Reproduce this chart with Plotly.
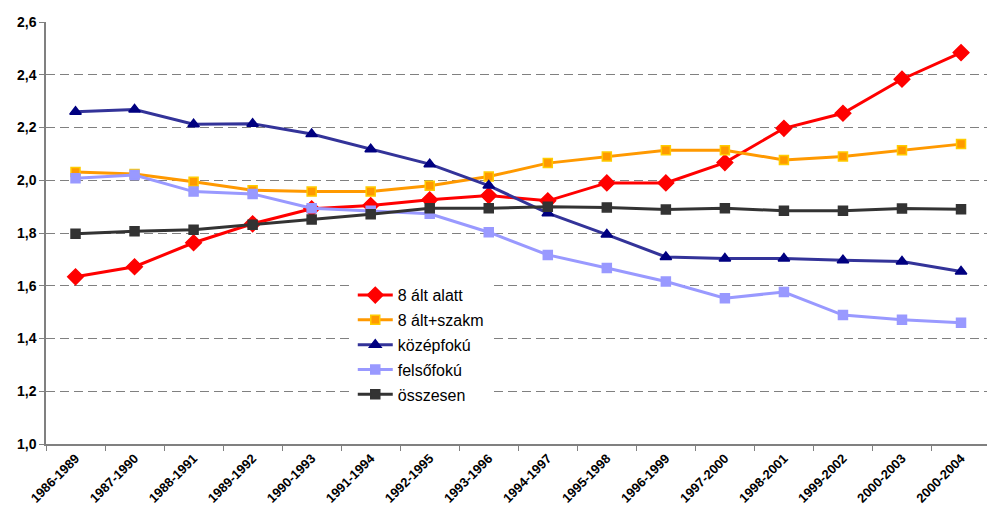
import plotly.graph_objects as go

categories = ["1986-1989", "1987-1990", "1988-1991", "1989-1992", "1990-1993", "1991-1994",
              "1992-1995", "1993-1996", "1994-1997", "1995-1998", "1996-1999", "1997-2000",
              "1998-2001", "1999-2002", "2000-2003", "2000-2004"]

alt8_alatt = [1.634, 1.672, 1.763, 1.835, 1.892, 1.904, 1.926, 1.942, 1.922, 1.990, 1.990,
              2.067, 2.197, 2.254, 2.383, 2.484]
alt8_szakm = [2.031, 2.024, 1.994, 1.962, 1.957, 1.957, 1.979, 2.014, 2.065, 2.090, 2.114,
              2.114, 2.077, 2.090, 2.114, 2.137]
kozepfoku = [2.260, 2.268, 2.212, 2.214, 2.175, 2.118, 2.061, 1.980, 1.875, 1.794, 1.709,
             1.703, 1.703, 1.697, 1.692, 1.654]
felsofoku = [2.008, 2.020, 1.957, 1.948, 1.894, 1.884, 1.873, 1.803, 1.717, 1.667, 1.616,
             1.553, 1.576, 1.489, 1.471, 1.460]
osszesen = [1.797, 1.807, 1.812, 1.831, 1.851, 1.871, 1.894, 1.894, 1.900, 1.897, 1.889,
            1.894, 1.884, 1.884, 1.893, 1.890]

y_ticks = [1.0, 1.2, 1.4, 1.6, 1.8, 2.0, 2.2, 2.4, 2.6]

series = [
    ("8 ált alatt", alt8_alatt, "#FF0000", "diamond", 12, "#FF0000", "#FF0000"),
    ("8 ált+szakm", alt8_szakm, "#FF9900", "square", 9, "#FF9900", "#FFCC00"),
    ("középfokú", kozepfoku, "#333399", "triangle-up", 10, "#000080", "#000080"),
    ("felsőfokú", felsofoku, "#9999FF", "square", 9, "#9999FF", "#9999FF"),
    ("összesen", osszesen, "#333333", "square", 9, "#333333", "#333333"),
]

fig = go.Figure()
for name, vals, lc, sym, sz, mc, mlc in series:
    fig.add_trace(go.Scatter(
        x=categories, y=vals, name=name, legendgroup=name, mode="lines+markers",
        line=dict(color=lc, width=3),
        marker=dict(symbol=sym, size=sz, color=mc, line=dict(color=mlc, width=1.5)),
    ))

fig.update_layout(
    width=987, height=522,
    margin=dict(l=46, r=0, t=22, b=78),
    paper_bgcolor="white", plot_bgcolor="white",
    separators=", ",
    font=dict(family="Liberation Sans, Arial", color="black"),
    showlegend=True,
    legend=dict(
        x=0.326, y=0.393, xanchor="left", yanchor="top",
        bgcolor="white", font=dict(size=16, family="Liberation Sans, Arial", color="black"),
        tracegroupgap=1, itemwidth=35,
    ),
    xaxis=dict(
        type="category", range=[-0.5, 15.44], automargin=False,
        showline=True, linecolor="#808080", linewidth=1.5,
        ticks="outside", ticklen=5, tickcolor="#808080", tickson="boundaries",
        tickangle=-45, showgrid=False,
        tickfont=dict(size=13, family="Liberation Sans, Arial", color="black", weight="bold"),
    ),
    yaxis=dict(
        range=[1.0, 2.6], tickvals=y_ticks, tickformat=".1f", automargin=False,
        showline=True, linecolor="#808080", linewidth=1.5,
        ticks="outside", ticklen=5, tickcolor="#808080",
        showgrid=True, gridcolor="#808080", gridwidth=1, griddash="9px,5px",
        zeroline=False,
        tickfont=dict(size=14, family="Liberation Sans, Arial", color="black", weight="bold"),
    ),
)

fig.write_html(
    "out.html",
    config={"displayModeBar": False},
    post_script="document.body.style.margin='0';document.body.style.overflow='hidden';",
)
